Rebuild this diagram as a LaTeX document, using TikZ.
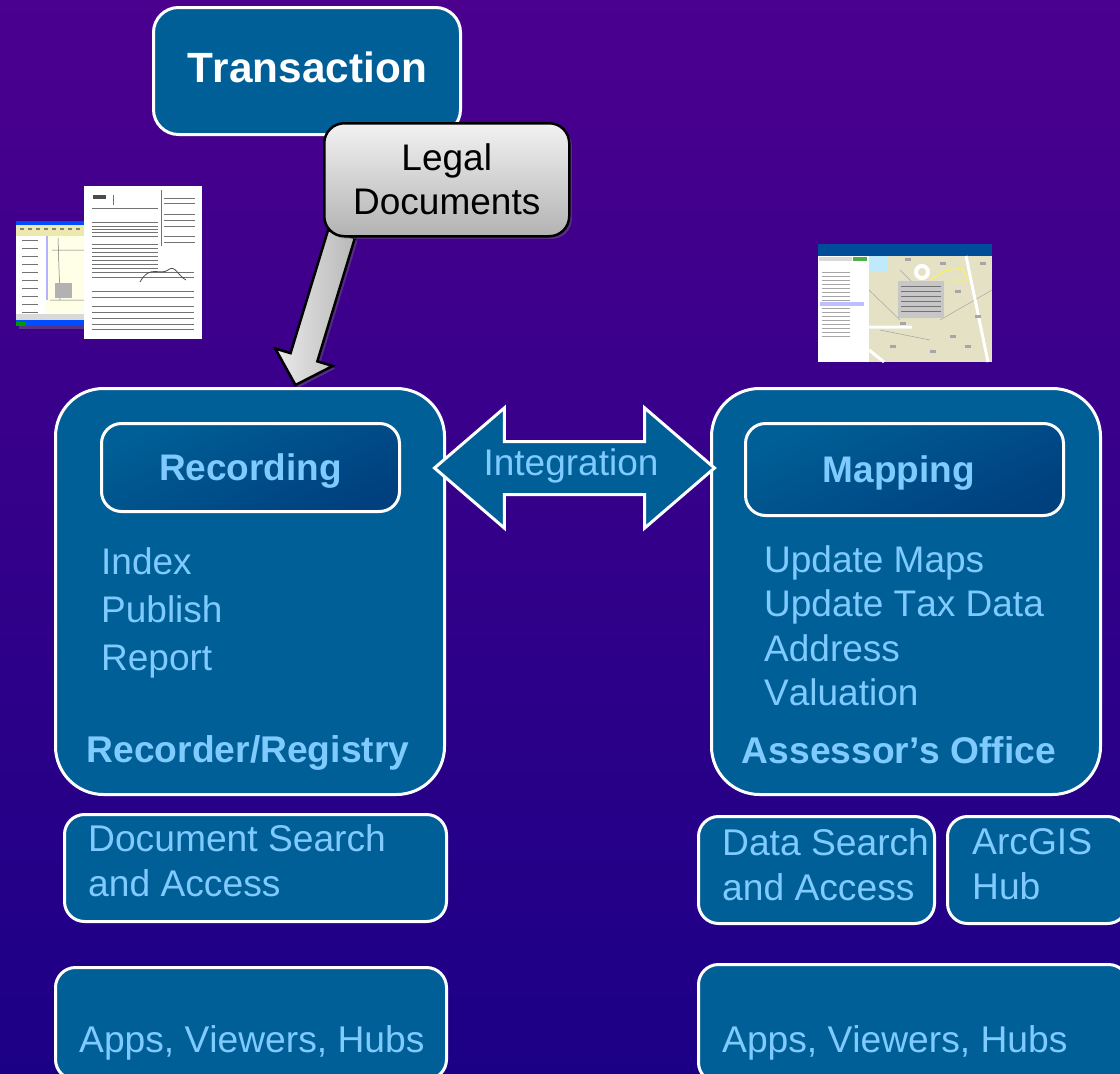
\documentclass[tikz,border=0pt]{standalone}
\usepackage{fontspec}
\setmainfont[Kerning=Off]{Liberation Sans}
\usepackage{tikz}
\usetikzlibrary{calc, positioning, shapes.arrows, shadows}

\definecolor{panelblue}{HTML}{005F96}
\definecolor{deepblue}{HTML}{00407F}
\definecolor{skytext}{HTML}{7FCBFF}
\definecolor{bgtop}{HTML}{4B008E}
\definecolor{bgbottom}{HTML}{1B0086}
\definecolor{maptan}{HTML}{E4E1C4}

\begin{document}
\begin{tikzpicture}[x=1pt, y=-1pt,
   panel/.style={rectangle, draw=white, line width=3pt, fill=panelblue, rounded corners=20pt, anchor=north west, inner sep=0pt},
   big panel/.style={panel, rounded corners=48pt},
   title box/.style={panel, top color=panelblue, bottom color=deepblue, shading angle=25, font=\fontsize{37}{44}\selectfont\bfseries, text=skytext},
   list text/.style={anchor=north west, inner sep=0pt, align=left, text=skytext, font=\fontsize{37.2}{45}\selectfont},
   office text/.style={anchor=center, inner sep=0pt, text=skytext, font=\fontsize{37.2}{44}\selectfont\bfseries},
   docline/.style={black!55, line width=0.7pt},
   mapline/.style={black!35, line width=0.5pt},
   road/.style={white, line width=3pt}]
   \useasboundingbox (0,0) rectangle (1120,1074);
   \shade[top color=bgtop, bottom color=bgbottom] (0,0) rectangle (1120,1074);

   % top of the picture
   \node[panel, rounded corners=25pt, minimum width=307pt, minimum height=127pt, text=white, font=\fontsize{42.3}{50}\selectfont\bfseries, text height=31pt, text depth=8pt] (transaction) at (152,6) {Transaction};

   % left thumbnails
   \fill[white!90!yellow, drop shadow={opacity=0.4}] (16,221) rectangle (84,326);
   \fill[blue!70!cyan] (16,221) rectangle (84,225);
   \fill[black!25!yellow!35] (16,225) rectangle (84,236);
   \foreach \x in {20,28,...,80} \fill[black!50] (\x,228) rectangle +(4,2);
   \fill[white] (16,236) rectangle (46,320);
   \fill[blue!30] (46,236) rectangle (48,300);
   \foreach \y in {240,248,...,312} \draw[docline, line width=0.5pt] (22,\y) -- (38,\y);
   \draw[docline, line width=0.5pt] (52,250) -- (84,250) (58,238) -- (60,300) (50,300) -- (84,300);
   \fill[black!30] (55,283) rectangle (72,298);
   \fill[black!15] (16,314) rectangle (84,320);
   \fill[blue!70!cyan] (16,320) rectangle (84,326);
   \fill[green!60!black] (16,322) rectangle (26,326);
   \node[rectangle, fill=white, anchor=north west, minimum width=118pt, minimum height=153pt, inner sep=0pt] (deed) at (84,186) {};
   \foreach \y in {208,222,226,229,232,236,244,248,252,256,260,264,268}
      \draw[docline] (92,\y) -- (158,\y);
   \foreach \y in {198,203,214,220,226,236,242}
      \draw[docline] (164,\y) -- (195,\y);
   \foreach \y in {272,277,291,297,306,312,318,324,329}
      \draw[docline] (92,\y) -- (194,\y);
   \draw[docline] (161,190) -- (161,246) (113,195) -- (113,205);
   \fill[black!70] (93,195) rectangle (106,199);
   \draw[black!70, line width=0.8pt] (140,282) .. controls (150,264) and (160,276) .. (168,270) .. controls (175,264) and (178,276) .. (186,280);

   % right thumbnail
   \node[rectangle, fill=white, anchor=north west, minimum width=174pt, minimum height=118pt, inner sep=0pt] (viewer) at (818,244) {};
   \fill[blue!50!cyan!60!black] (818,244) rectangle (992,256);
   \fill[green!55!black!70!white] (853,257) rectangle (867,261);
   \fill[black!15] (819,257) rectangle (852,261);
   \foreach \y in {272,276,...,336} \draw[docline, line width=1pt, black!35] (822,\y) -- (850,\y);
   \fill[blue!25] (820,302) rectangle (864,306);
   \fill[maptan] (869,256) rectangle (992,362);
   \fill[cyan!25] (869,256) rectangle (888,272);
   \draw[mapline] (869,290) -- (900,320) (900,270) -- (930,300) (940,320) -- (992,290) (880,330) -- (930,340);
   \draw[road] (869,327) -- (912,327) (966,256) -- (988,362) (869,350) -- (884,362);
   \draw[white, line width=4pt] (922,272) circle (6pt);
   \draw[yellow!70, line width=0.8pt] (930,280) -- (945,271) -- (962,268) -- (968,280) -- (950,280);
   \fill[black!22] (898,281) rectangle (944,318);
   \foreach \y in {286,291,...,314} \draw[docline, line width=0.5pt] (901,\y) -- (941,\y);
   \foreach \x/\y in {905/258,940/262,980/262,955/290,975/315,890/345,930/350,950/335,965/345,900/322}
      \fill[black!35] (\x,\y) rectangle +(6,3);

   % offices
   \node[big panel, minimum width=389pt, minimum height=406pt] (recorder) at (54,387) {};
   \node[big panel, minimum width=389pt, minimum height=406pt] (assessor) at (710,387) {};
   \node[title box, minimum width=298pt, minimum height=88pt, text height=35pt, text depth=8.4pt] (recording) at (100,422) {Recording};
   \node[title box, minimum width=318pt, minimum height=92pt, text height=34pt, text depth=8pt] (mapping) at (744,422) {Mapping\hspace*{11pt}};

   \node[list text, font=\fontsize{37}{48}\selectfont] (recording list) at (101,547) {Index\\Publish\\Report};
   \node[list text, font=\fontsize{37}{44.5}\selectfont] (mapping list) at (764,545) {Update Maps\\Update Tax Data\\Address\\Valuation};
   \node[office text] (recorder label) at (248,753) {Recorder/Registry};
   \node[office text] (assessor label) at (899,750) {Assessor’s Office};

   % legal documents arrow
   \coordinate (foot) at (341.5,234);
   \coordinate (tip) at (295.5,385);
   \coordinate (neck) at ($(tip)!29pt!(foot)$);
   \shade[left color=black!8, right color=black!28, draw=black, line width=2.5pt, miter limit=4, drop shadow={opacity=0.35}]
      ($(foot)!14pt!90:(tip)$) -- ($(neck)!14pt!-90:(foot)$) -- ($(neck)!30pt!-90:(foot)$) -- (tip)
      -- ($(neck)!30pt!90:(foot)$) -- ($(neck)!14pt!90:(foot)$) -- ($(foot)!14pt!-90:(tip)$) -- cycle;
   \node[rectangle, draw=black, line width=2.5pt, rounded corners=20pt, top color=black!5, bottom color=black!30, anchor=north west, minimum width=245pt, minimum height=113pt, inner sep=0pt, align=center, font=\fontsize{37}{44}\selectfont, drop shadow={opacity=0.35}] (legal) at (323,122) {\raisebox{1pt}{Legal}\\\raisebox{1pt}{Documents}};

   % integration arrow
   \node[double arrow, draw=white, line width=3pt, fill=panelblue, text=skytext, font=\fontsize{37}{44}\selectfont, inner xsep=0pt, inner ysep=0pt, text height=32pt, text depth=18pt, minimum height=280pt, minimum width=117pt, double arrow head extend=33.5pt, double arrow tip angle=81.4, double arrow head indent=0pt, outer sep=0pt] (integration) at (574.5,468) {Integration\hspace*{7pt}};

   % search boxes
   \node[panel, minimum width=382pt, minimum height=107pt] (document search) at (63,813) {};
   \node[panel, minimum width=236pt, minimum height=107pt] (data search) at (697,815) {};
   \node[panel, minimum width=180pt, minimum height=107pt] (hub) at (946,815) {};
   \node[panel, minimum width=391pt, minimum height=112pt] (left apps) at (54,966) {};
   \node[panel, minimum width=430pt, minimum height=118pt] (right apps) at (697,963) {};

   \node[list text] (document label) at (88,824) {Document Search\\and Access};
   \node[list text] (data label) at (722,828) {Data Search\\and Access};
   \node[list text] (hub label) at (972,828) {ArcGIS\\Hub};
   \node[list text] (left apps label) at (79,1025) {Apps, Viewers, Hubs};
   \node[list text] (right apps label) at (722,1025) {Apps, Viewers, Hubs};
\end{tikzpicture}
\end{document}
